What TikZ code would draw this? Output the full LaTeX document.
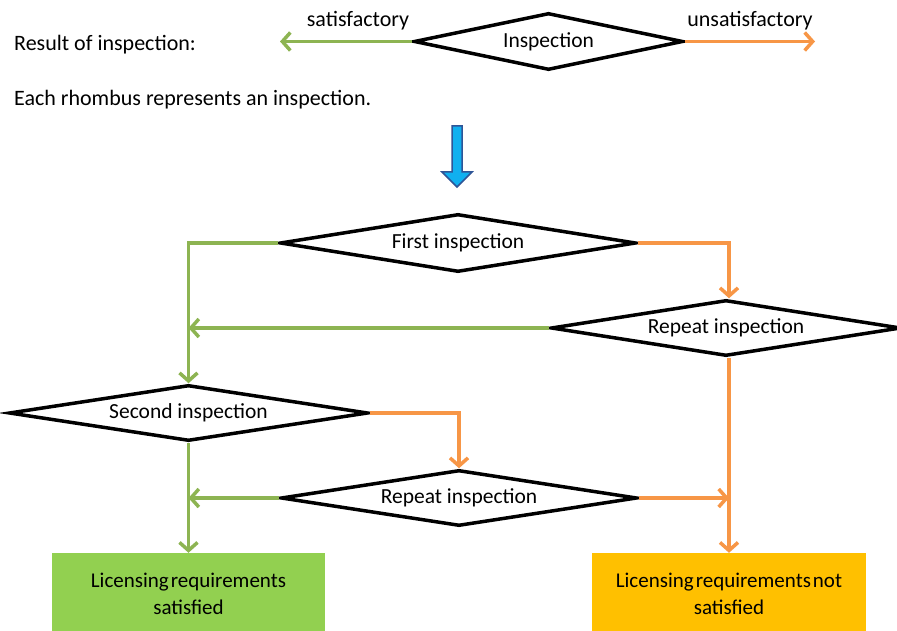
\documentclass[tikz,border=0pt]{standalone}
\usepackage{fontspec}
\setmainfont{Carlito}
\usetikzlibrary{arrows.meta,shapes.geometric}
\definecolor{gline}{HTML}{8DB452}
\definecolor{oline}{HTML}{F79646}
\definecolor{gbox}{HTML}{92D050}
\definecolor{obox}{HTML}{FFC000}
\definecolor{bfill}{HTML}{10B0F0}
\definecolor{bdraw}{HTML}{2F5597}
\tikzset{
  rh/.style={diamond, draw=black, line width=3.5pt, fill=white, inner sep=0pt, shape aspect=6, font=\fontsize{21.5}{24}\selectfont},
  gl/.style={draw=gline, line width=3.5pt, -{Straight Barb[length=8pt,width=18pt]}},
  ol/.style={draw=oline, line width=3.5pt, -{Straight Barb[length=8pt,width=18pt]}},
  txt/.style={font=\fontsize{22}{24}\selectfont, inner sep=0pt},
  res/.style={draw=none, inner sep=0pt, align=center, font=\fontsize{21}{27}\selectfont}
}
\begin{document}
\begin{tikzpicture}[x=1pt,y=-1pt]
\useasboundingbox (0,0) rectangle (897,631);
% legend
\node[txt, anchor=west] (res) at (14,45) {Result of inspection:};
\node[txt, anchor=west] (each) at (14,100) {Each rhombus represents an inspection.};
\node[rh, shape aspect=4.7, minimum width=269pt, minimum height=57pt] (insp) at (548.5,41.5) {Inspection};
\coordinate (lg) at (280,41.5);
\coordinate (lo) at (815,41.5);
\draw[gl] (insp.west) -- (lg);
\draw[ol] (insp.east) -- (lo);
\node[txt] (sat) at (358,21) {satisfactory};
\node[txt] (unsat) at (750,21) {unsatisfactory};
% blue arrow
\draw[draw=bdraw, fill=bfill, line width=1.5pt, line join=miter]
  (452,126) -- (462,126) -- (462,172) -- (472,172) -- (457,187) -- (442,172) -- (452,172) -- cycle;
% flow
\node[rh, shape aspect=6.1, minimum width=356pt, minimum height=58pt] (first) at (458,243) {First inspection};
\node[rh, shape aspect=6.2, minimum width=350pt, minimum height=56pt] (rep1) at (726,328) {Repeat inspection};
\node[rh, shape aspect=6.4, minimum width=359pt, minimum height=56pt] (second) at (188.5,413) {Second inspection};
\node[rh, shape aspect=6.3, minimum width=356pt, minimum height=56pt] (rep2) at (459,498) {Repeat inspection};
\node[res, fill=gbox, minimum width=273pt, minimum height=82pt] (good) at (188.5,594) {Licensing\hspace{2pt}requirements\\satisfied};
\node[res, fill=obox, minimum width=274pt, minimum height=82pt] (bad) at (729,594) {Licensing\hspace{2pt}requirements\hspace{2pt}not\\satisfied};
\draw[gl] (first.west) -| (second.north);
\draw[ol] (first.east) -| (rep1.north -| bad.north);
\draw[gl] (rep1.west) -- (rep1.west -| second.north);
\draw[ol] (rep1.south -| bad.north) -- (bad.north);
\draw[ol] (second.east) -| (rep2.north);
\draw[gl] (second.south) -- (good.north);
\draw[gl] (rep2.west) -- (rep2.west -| second.south);
\draw[ol] (rep2.east) -- (rep2.east -| bad.north);
\end{tikzpicture}
\end{document}
